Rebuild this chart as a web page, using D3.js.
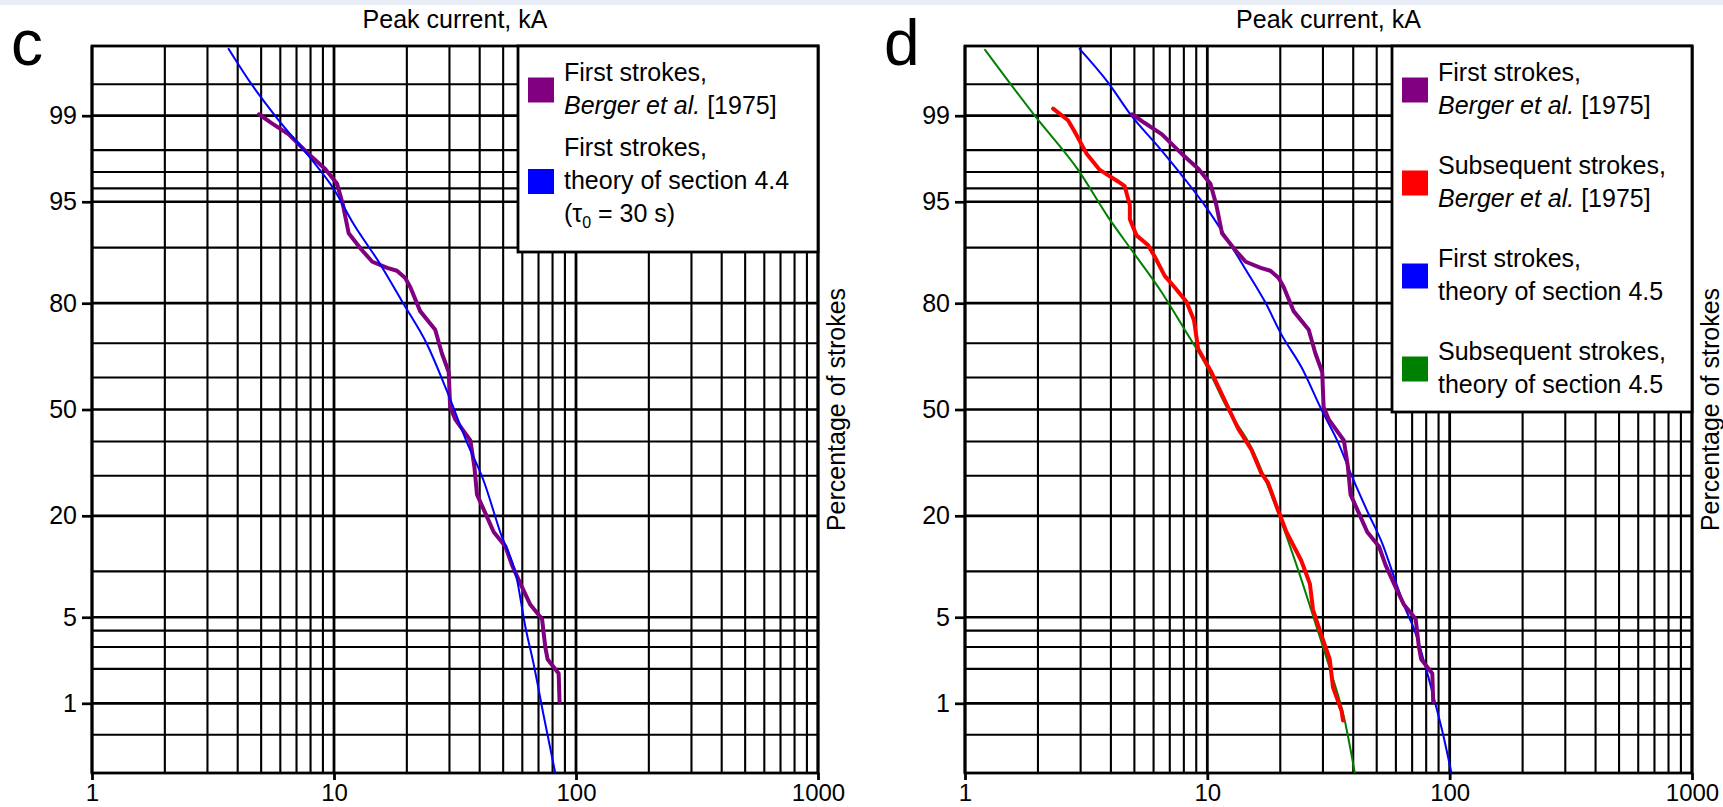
<!DOCTYPE html>
<html>
<head>
<meta charset="utf-8">
<script src="https://cdn.jsdelivr.net/npm/d3@7"></script>
<style>
  body { margin: 0; background: #fff; }
  svg { display: block; }
</style>
</head>
<body>
<div id="chart"></div>
<script>
// peak current (kA) vs percentage of strokes exceeding
const firstBerger = [
  [4.9, 99.03], [5.5, 98.84], [6.5, 98.53], [8.0, 97.77], [9.2, 97.16], [10.3, 96.3],
  [10.9, 94.7], [11.3, 92.9], [11.5, 91.85], [13.0, 89.7], [14.4, 87.9], [16.6, 86.9],
  [18.2, 86.4], [19.7, 85.1], [20.7, 83.3], [22.7, 78.2], [26.2, 73.6], [27.9, 67.2],
  [29.8, 61.6], [30.0, 55.8], [30.2, 50.7], [31.7, 46.9], [36.6, 40.3], [38.0, 32.7],
  [39.0, 25.0], [42.2, 20.6], [45.7, 16.6], [51.1, 13.9], [54.4, 10.9], [58.9, 8.4],
  [64.8, 6.1], [72.4, 4.85], [74.7, 2.98], [76.3, 2.4], [84.8, 1.83], [85.5, 1.04]
];
const subsBerger = [
  [2.31, 99.14], [2.66, 98.9], [2.84, 98.6], [3.17, 97.87], [3.6, 97.11], [4.28, 96.45],
  [4.56, 96.15], [4.79, 94.7], [4.79, 93.4], [5.1, 91.6], [5.69, 90.35], [6.07, 88.67],
  [6.67, 85.5], [7.34, 83.3], [8.2, 80.3], [8.81, 76.0], [9.16, 68.5], [10.4, 61.6],
  [11.8, 52.9], [13.4, 44.0], [15.2, 37.5], [16.7, 30.7], [17.8, 28.1], [19.3, 22.2],
  [21.2, 16.6], [24.4, 11.6], [26.5, 8.37], [27.3, 5.64], [29.6, 3.67], [32.0, 2.4],
  [33.0, 1.39], [35.8, 0.85], [36.3, 0.69]
];
const firstTheory44 = [
  [3.67, 99.785], [4.51, 99.52], [5.81, 98.95], [7.98, 97.68], [9.96, 95.98], [12.05, 92.9],
  [15.5, 87.55], [19.4, 79.8], [24.2, 69.8], [29.3, 55.8], [35.5, 39.6], [41.5, 28.7],
  [48.6, 16.6], [57.0, 8.95], [61.7, 4.31], [66.8, 2.2], [73.5, 0.77], [82.1, 0.2]
];
const firstTheory45 = [
  [2.97, 99.785], [3.89, 99.52], [4.86, 99.0], [6.26, 98.14], [8.07, 96.6], [9.76, 94.7],
  [11.8, 91.6], [14.3, 86.8], [17.3, 80.3], [20.2, 72.4], [24.5, 63.0], [29.6, 49.9],
  [34.7, 39.6], [39.4, 30.0], [46.1, 20.6], [52.3, 14.8], [59.4, 8.95], [65.3, 5.86],
  [71.8, 3.97], [78.9, 2.2], [86.8, 1.04], [94.0, 0.5], [101.7, 0.2]
];
const subsTheory45 = [
  [1.21, 99.78], [1.94, 99.0], [2.93, 97.11], [3.89, 93.64], [4.86, 89.7], [6.47, 82.4],
  [8.07, 73.6], [9.76, 64.4], [12.17, 49.9], [15.2, 38.2], [19.6, 20.6], [23.7, 10.2],
  [28.6, 3.97], [32.5, 1.83], [36.9, 0.69], [40.6, 0.2]
];

// axes
const xDomain = [1, 1000];
const xLabeled = [1, 10, 100, 1000];
const pDomain = [0.2, 99.8];
const pGrid = [99.5, 99, 98, 97, 96, 95, 90, 80, 70, 60, 50, 40, 30, 20, 10, 5, 4, 3, 2, 1, 0.5];
const pLabeled = [99, 95, 80, 50, 20, 5, 1];

const xTitle = "Peak current, kA";
const yTitle = "Percentage of strokes";

const legendC = [
  { color: "#800080", lines: [[["First strokes,"]], [["Berger et al.", "i"], [" [1975]"]]] },
  { color: "#0000ff", lines: [[["First strokes,"]], [["theory of section 4.4"]], [["(\u03c4"], ["0", "sub"], [" = 30 s)"]]] }
];
const legendD = [
  { color: "#800080", lines: [[["First strokes,"]], [["Berger et al.", "i"], [" [1975]"]]] },
  { color: "#ff0000", lines: [[["Subsequent strokes,"]], [["Berger et al.", "i"], [" [1975]"]]] },
  { color: "#0000ff", lines: [[["First strokes,"]], [["theory of section 4.5"]]] },
  { color: "#008000", lines: [[["Subsequent strokes,"]], [["theory of section 4.5"]]] }
];

const width = 1723, height = 807;
const plotTop = 46, plotBottom = 773;
const font = '"Liberation Sans", Arial, Helvetica, sans-serif';

const panels = [
  { letter: "c", x0: 92, x1: 818, legend: legendC, legendH: 206, gap: 9,
    series: [
      { data: firstBerger, color: "#800080", w: 4, smooth: false },
      { data: firstTheory44, color: "#0000ff", w: 2, smooth: true }
    ] },
  { letter: "d", x0: 965, x1: 1692, legend: legendD, legendH: 366, gap: 27,
    series: [
      { data: subsTheory45, color: "#008000", w: 2, smooth: true },
      { data: firstTheory45, color: "#0000ff", w: 2, smooth: true },
      { data: firstBerger, color: "#800080", w: 4, smooth: false },
      { data: subsBerger, color: "#ff0000", w: 4, smooth: false }
    ] }
];

// inverse of the standard normal CDF (Acklam)
function probit(p) {
  const a = [-3.969683028665376e+01, 2.209460984245205e+02, -2.759285104469687e+02, 1.383577518672690e+02, -3.066479806614716e+01, 2.506628277459239e+00];
  const b = [-5.447609879822406e+01, 1.615858368580409e+02, -1.556989798598866e+02, 6.680131188771972e+01, -1.328068155288572e+01];
  const c = [-7.784894002430293e-03, -3.223964580411365e-01, -2.400758277161838e+00, -2.549732539343734e+00, 4.374664141464968e+00, 2.938163982698783e+00];
  const d = [7.784695709041462e-03, 3.224671290700398e-01, 2.445134137142996e+00, 3.754408661907416e+00];
  const pl = 0.02425;
  let q, r;
  if (p < pl) {
    q = Math.sqrt(-2 * Math.log(p));
    return (((((c[0]*q+c[1])*q+c[2])*q+c[3])*q+c[4])*q+c[5]) / ((((d[0]*q+d[1])*q+d[2])*q+d[3])*q+1);
  }
  if (p <= 1 - pl) {
    q = p - 0.5; r = q * q;
    return (((((a[0]*r+a[1])*r+a[2])*r+a[3])*r+a[4])*r+a[5])*q / (((((b[0]*r+b[1])*r+b[2])*r+b[3])*r+b[4])*r+1);
  }
  q = Math.sqrt(-2 * Math.log(1 - p));
  return -(((((c[0]*q+c[1])*q+c[2])*q+c[3])*q+c[4])*q+c[5]) / ((((d[0]*q+d[1])*q+d[2])*q+d[3])*q+1);
}

const svg = d3.select("#chart").append("svg")
  .attr("width", width)
  .attr("height", height)
  .style("font-family", font);

svg.append("rect").attr("width", width).attr("height", height).attr("fill", "#fff");
// thin band along the top edge
svg.append("rect").attr("width", width).attr("height", 5).attr("fill", "#e9edf6");

// probability scale works in z units
const yz = d3.scaleLinear()
  .domain([probit(pDomain[0] / 100), probit(pDomain[1] / 100)])
  .range([plotBottom, plotTop]);
const yp = p => yz(probit(p / 100));

const xGrid = [];
for (let dec = 1; dec < 1000; dec *= 10) {
  for (let m = 1; m < 10; m++) xGrid.push(dec * m);
}
xGrid.push(1000);

panels.forEach((pan, pi) => {
  const x = d3.scaleLog().domain(xDomain).range([pan.x0, pan.x1]);
  const g = svg.append("g");

  // grid
  g.append("g").selectAll("line")
    .data(xGrid)
    .join("line")
    .attr("x1", d => x(d)).attr("x2", d => x(d))
    .attr("y1", plotTop).attr("y2", plotBottom)
    .attr("stroke", "#000")
    .attr("stroke-width", d => xLabeled.includes(d) ? 2.8 : 2.1);

  g.append("g").selectAll("line")
    .data(pGrid)
    .join("line")
    .attr("x1", pan.x0).attr("x2", pan.x1)
    .attr("y1", d => yp(d)).attr("y2", d => yp(d))
    .attr("stroke", "#000")
    .attr("stroke-width", d => pLabeled.includes(d) ? 2.7 : 2.1);

  g.append("rect")
    .attr("x", pan.x0).attr("y", plotTop)
    .attr("width", pan.x1 - pan.x0).attr("height", plotBottom - plotTop)
    .attr("fill", "none").attr("stroke", "#000").attr("stroke-width", 2.8);

  // axes (ticks + labels only)
  const yAxis = d3.axisLeft(yz)
    .tickValues(pLabeled.map(p => probit(p / 100)))
    .tickFormat((d, i) => pLabeled[i])
    .tickSize(10).tickPadding(5);
  g.append("g")
    .attr("transform", `translate(${pan.x0},0)`)
    .call(yAxis)
    .call(a => a.select(".domain").remove())
    .call(a => a.selectAll("line").attr("stroke", "#000").attr("stroke-width", 2.7))
    .call(a => a.selectAll("text").attr("font-size", 25).attr("font-family", font).attr("fill", "#000"));

  const xAxis = d3.axisBottom(x)
    .tickValues(xLabeled)
    .tickFormat(d3.format("d"))
    .tickSize(7).tickPadding(4);
  g.append("g")
    .attr("transform", `translate(0,${plotBottom})`)
    .call(xAxis)
    .call(a => a.select(".domain").remove())
    .call(a => a.selectAll("line").attr("stroke", "#000").attr("stroke-width", 2.8))
    .call(a => a.selectAll("text").attr("font-size", 24).attr("font-family", font).attr("fill", "#000"));

  // titles
  g.append("text")
    .attr("x", (pan.x0 + pan.x1) / 2).attr("y", 28)
    .attr("text-anchor", "middle").attr("font-size", 25)
    .text(xTitle);

  g.append("text")
    .attr("transform", `translate(${pan.x1 + 27},${(plotTop + plotBottom) / 2}) rotate(-90)`)
    .attr("text-anchor", "middle").attr("font-size", 25)
    .text(yTitle);

  g.append("text")
    .attr("x", pan.x0 - 81).attr("y", 65)
    .attr("font-size", 64)
    .text(pan.letter);

  // curves
  const clipId = "clip" + pi;
  svg.append("clipPath").attr("id", clipId)
    .append("rect")
    .attr("x", pan.x0).attr("y", plotTop)
    .attr("width", pan.x1 - pan.x0).attr("height", plotBottom - plotTop);

  const curves = g.append("g").attr("clip-path", `url(#${clipId})`);
  pan.series.forEach(s => {
    const line = d3.line()
      .x(d => x(d[0]))
      .y(d => yp(d[1]))
      .curve(s.smooth ? d3.curveMonotoneX : d3.curveLinear);
    curves.append("path")
      .datum(s.data)
      .attr("fill", "none")
      .attr("stroke", s.color)
      .attr("stroke-width", s.w)
      .attr("stroke-linejoin", "round")
      .attr("stroke-linecap", "round")
      .attr("d", line);
  });

  // legend
  const lw = 300, lineH = 33;
  const lx = pan.x1 - lw;
  const lg = g.append("g");
  lg.append("rect")
    .attr("x", lx).attr("y", plotTop)
    .attr("width", lw).attr("height", pan.legendH)
    .attr("fill", "#fff").attr("stroke", "#000").attr("stroke-width", 2.8);

  let base = plotTop + 35;
  pan.legend.forEach(item => {
    const n = item.lines.length;
    const mid = base + (n - 1) * lineH / 2 - 7;
    lg.append("rect")
      .attr("x", lx + 10).attr("y", mid - 13)
      .attr("width", 26).attr("height", 25)
      .attr("fill", item.color);
    item.lines.forEach((segs, li) => {
      const t = lg.append("text")
        .attr("x", lx + 46).attr("y", base + li * lineH)
        .attr("font-size", 25);
      segs.forEach(([txt, style]) => {
        const ts = t.append("tspan").text(txt);
        if (style === "i") ts.attr("font-style", "italic");
        if (style === "sub") ts.attr("font-size", 16).attr("dy", 6);
      });
      // undo the subscript shift for the text that follows
      t.selectAll("tspan").each(function(d, k, nodes) {
        if (k > 0 && d3.select(nodes[k - 1]).attr("dy") === "6") d3.select(this).attr("dy", -6);
      });
    });
    base += n * lineH + pan.gap;
  });
});
</script>
</body>
</html>
